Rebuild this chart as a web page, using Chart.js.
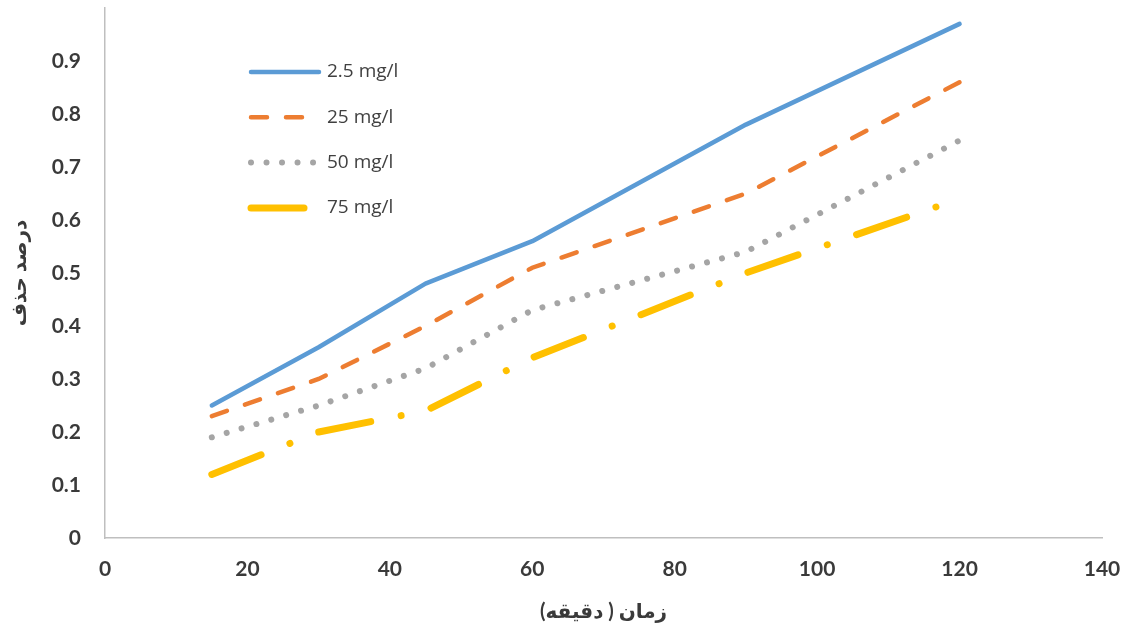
<!DOCTYPE html>
<html>
<head>
<meta charset="utf-8">
<script src="https://cdn.jsdelivr.net/npm/chart.js@4.4.1/dist/chart.umd.min.js"></script>
<style>
    html, body { margin: 0; padding: 0; background: #ffffff; }
</style>
</head>
<body>
<canvas id="chartRemoval" width="1123" height="628"></canvas>
<script>
// 시간(분)과 농도별 제거율
const times = [15, 30, 45, 60, 90, 120];
const seriesNames = ['2.5 mg/l', '25 mg/l', '50 mg/l', '75 mg/l'];
const removal25 = [0.25, 0.36, 0.48, 0.56, 0.78, 0.97];
const removal250 = [0.23, 0.30, 0.40, 0.51, 0.65, 0.86];
const removal50 = [0.19, 0.25, 0.32, 0.43, 0.54, 0.75];
const removal75 = [0.12, 0.20, 0.24, 0.34, 0.50, 0.64];
const xTickValues = [0, 20, 40, 60, 80, 100, 120, 140];
const yTickValues = [0, 0.1, 0.2, 0.3, 0.4, 0.5, 0.6, 0.7, 0.8, 0.9];

function toPoints(values) {
    return times.map(function(t, i){ return { x: t, y: values[i] }; });
}

// 선 스타일
const data = {
    datasets: [{
        label: seriesNames[0],
        data: toPoints(removal25),
        borderColor: '#5B9BD5',
        borderWidth: 4.5,
        borderCapStyle: 'round',
        borderJoinStyle: 'round',
    }, {
        label: seriesNames[1],
        data: toPoints(removal250),
        borderColor: '#ED7D31',
        borderWidth: 4.5,
        borderDash: [16, 19],
        borderCapStyle: 'round',
    }, {
        label: seriesNames[2],
        data: toPoints(removal50),
        borderColor: '#A5A5A5',
        borderWidth: 6,
        borderDash: [0.01, 15.5],
        borderCapStyle: 'round',
    }, {
        label: seriesNames[3],
        data: toPoints(removal75),
        borderColor: '#FFC000',
        borderWidth: 7,
        borderDash: [53, 31, 0.01, 31],
        borderCapStyle: 'round',
    }]
};

// 플롯 안쪽 범례
const insideLegend = {
    id: 'insideLegend',
    afterDatasetsDraw: function(chart){
        const ctx = chart.ctx;
        chart.data.datasets.forEach(function(ds, i){
            const y = 72 + i * 45.3;
            ctx.save();
            ctx.strokeStyle = ds.borderColor;
            ctx.lineWidth = ds.borderWidth;
            ctx.lineCap = 'round';
            ctx.setLineDash(ds.borderDash || []);
            ctx.beginPath();
            ctx.moveTo(251, y);
            ctx.lineTo(i === 3 ? 305 : 319, y);
            ctx.stroke();
            ctx.setLineDash([]);
            ctx.fillStyle = '#404040';
            ctx.font = "19px 'Open Sans'";
            ctx.textBaseline = 'middle';
            ctx.fillText(ds.label, 327, y);
            ctx.restore();
        });
    }
};

const options = {
    responsive: false,
    animation: false,
    maintainAspectRatio: false,
    layout: { padding: { top: 8, right: 21, left: 0, bottom: 0 } },
    elements: { point: { radius: 0 }, line: { tension: 0 } },
    plugins: {
        legend: { display: false },
        tooltip: { enabled: false },
        title: { display: false }
    },
    scales: {
        x: {
            type: 'linear',
            min: 0,
            max: 140,
            afterBuildTicks: function(scale){ scale.ticks = xTickValues.map(function(v){ return { value: v }; }); },
            afterFit: function(scale){ scale.height = 90; scale.paddingLeft = 0; scale.paddingRight = 0; },
            grid: { display: false, drawTicks: false },
            border: { display: true, color: '#BFBFBF', width: 1.5 },
            ticks: {
                padding: 19,
                color: '#3a3a3a',
                font: { family: 'Lato', size: 21, weight: 'bold' }
            },
            title: {
                display: true,
                text: 'زمان ( دقیقه)',
                color: '#3a3a3a',
                padding: 4,
                font: { family: "Lato, 'DejaVu Sans'", size: 20, weight: 'bold' }
            }
        },
        y: {
            min: 0,
            max: 1,
            afterBuildTicks: function(scale){ scale.ticks = yTickValues.map(function(v){ return { value: v }; }); },
            afterFit: function(scale){ scale.width = 105; scale.paddingTop = 0; scale.paddingBottom = 0; },
            grid: { display: false, drawTicks: false },
            border: { display: true, color: '#BFBFBF', width: 1.5 },
            ticks: {
                padding: 24,
                color: '#3a3a3a',
                font: { family: 'Lato', size: 21, weight: 'bold' },
                callback: function(value){ return String(Math.round(value * 10) / 10); }
            },
            title: {
                display: true,
                text: 'درصد حذف',
                color: '#3a3a3a',
                padding: 8,
                font: { family: "Lato, 'DejaVu Sans'", size: 20, weight: 'bold' }
            }
        }
    }
};

document.addEventListener("DOMContentLoaded", function(){
    const ctx = document.getElementById('chartRemoval').getContext('2d');
    const chartRemoval = new Chart(ctx, {
        type: 'line',
        data: data,
        options: options,
        plugins: [insideLegend]
    });
});
</script>
</body>
</html>
